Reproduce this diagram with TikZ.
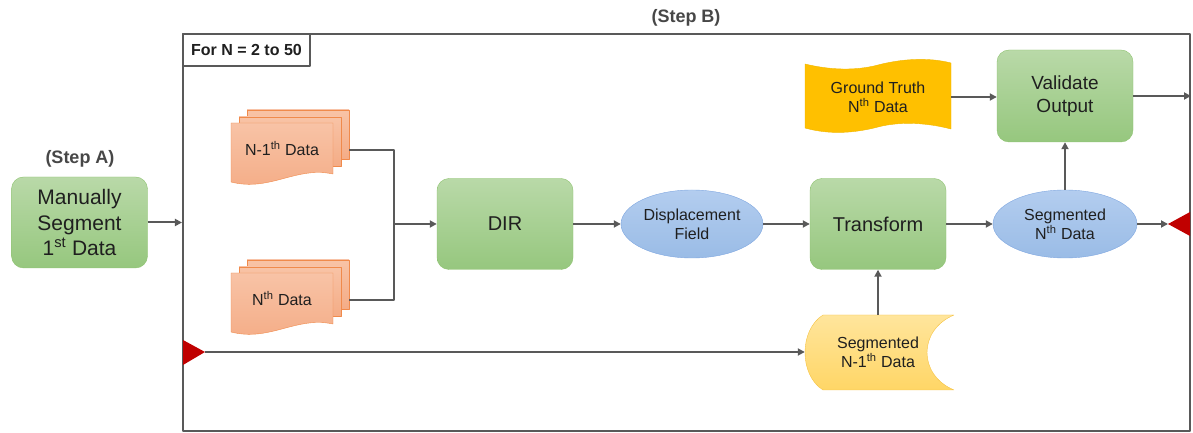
\documentclass[tikz,border=0pt]{standalone}
\usepackage{fontspec}
\setmainfont{Liberation Sans}
\usetikzlibrary{arrows.meta,shapes.geometric}

\definecolor{lnGray}{HTML}{595959}
\definecolor{txtCol}{HTML}{1F1F1F}
\definecolor{grnTop}{HTML}{B9D9A8}
\definecolor{grnBot}{HTML}{96C77E}
\definecolor{grnEdge}{HTML}{8DC26F}
\definecolor{bluTop}{HTML}{B3CDEF}
\definecolor{bluBot}{HTML}{9ABCE6}
\definecolor{bluEdge}{HTML}{7EA6E0}
\definecolor{docTop}{HTML}{F8C3A6}
\definecolor{docBot}{HTML}{F4AC86}
\definecolor{docEdge}{HTML}{F08A4B}
\definecolor{gtFill}{HTML}{FFC000}
\definecolor{gtEdge}{HTML}{F2B800}
\definecolor{sdTop}{HTML}{FFE59C}
\definecolor{sdBot}{HTML}{FFD666}
\definecolor{sdEdge}{HTML}{F6C343}
\definecolor{tRed}{HTML}{C00000}

\newcommand{\fsz}[1]{\fontsize{#1bp}{1.2\dimexpr#1bp\relax}\selectfont}
\newcommand{\ordsup}[1]{\smash{\textsuperscript{#1}}}

\tikzset{
  ln/.style={draw=lnGray,line width=2bp},
  arr/.style={ln,-{Triangle[length=7bp,width=7bp]}},
  procbox/.style={rounded corners=12bp,draw=grnEdge,top color=grnTop,bottom color=grnBot,
    minimum width=136bp,minimum height=91bp,align=center,text=txtCol,font=\fsz{20}},
  ellbox/.style={ellipse,draw=bluEdge,top color=bluTop,bottom color=bluBot,inner sep=0pt,
    minimum width=142bp,minimum height=68bp,align=center,text=txtCol,font=\fsz{16}},
  plain/.style={draw=none,align=center,inner sep=0pt,text=txtCol},
}

\begin{document}
\begin{tikzpicture}[x=1bp,y=-1bp,line join=bevel]
\useasboundingbox (0,0) rectangle (1193,433);
%%
\node (stepA) at (80,159) [plain,font=\bfseries\fsz{18},text=lnGray!80!black] {(Step A)};
\node (stepB) at (686,18) [plain,font=\bfseries\fsz{18},text=lnGray!80!black] {(Step B)};
\node (loop) at (686.5,232.5) [ln,minimum width=1007bp,minimum height=397bp,inner sep=0pt] {};
\node (forN) at (246.5,50) [ln,fill=white,minimum width=127bp,minimum height=32bp,inner sep=0pt,
  font=\bfseries\fsz{16},text=txtCol] {For N = 2 to 50};
%
\node (man) at (79.5,222.5) [procbox,font=\fsz{21}] {Manually\\Segment\\1\ordsup{st} Data};
%
\foreach \dy/\nm/\lab in {0/nm1/{N-1\ordsup{th} Data},150/nn/{N\ordsup{th} Data}}{
  \draw [draw=docEdge,top color=docTop,bottom color=docBot] (247,{110+\dy}) rectangle (349,{159+\dy});
  \draw [draw=docEdge,top color=docTop,bottom color=docBot] (239,{117+\dy}) rectangle (341,{166+\dy});
  \draw [draw=docEdge,top color=docTop,bottom color=docBot] (231,{123+\dy}) -- (333,{123+\dy})
    -- (333,{174+\dy}) .. controls (296,{166+\dy}) and (270,{192+\dy}) .. (231,{182+\dy}) -- cycle;
  \node (\nm) at (282,{150+\dy}) [plain,minimum width=134bp,font=\fsz{16}] {\lab};
}
\coordinate (jn) at (394,224);
%
\node (dir) at (505,224) [procbox] {DIR};
\node (disp) at (692,224) [ellbox] {Displacement\\Field};
\node (tr) at (878,224) [procbox] {Transform};
\node (segN) at (1065,224) [ellbox,minimum width=144bp] {Segmented\\N\ordsup{th} Data};
\node (val) at (1065,96) [procbox,minimum height=92bp,font=\fsz{19}] {Validate\\Output};
%
\draw [draw=gtEdge,fill=gtFill] (805,64) .. controls (830,70) and (855,71) .. (878,65)
  .. controls (901,59) and (928,57) .. (951,63) -- (951,129)
  .. controls (928,123) and (901,121) .. (878,127)
  .. controls (855,133) and (830,135) .. (805,128) -- cycle;
\node (gt) at (878,97) [plain,minimum width=146bp,font=\fsz{16}] {Ground Truth\\N\ordsup{th} Data};
%
\draw [draw=sdEdge,top color=sdTop,bottom color=sdBot] (823,315) -- (954,315)
  .. controls (918,330) and (918,375) .. (954,390) -- (823,390)
  .. controls (799,375) and (799,330) .. (823,315) -- cycle;
\node (sn1) at (878,352.5) [plain,minimum width=146bp,minimum height=75bp,font=\fsz{16}] {Segmented\\N-1\ordsup{th} Data};
%
\coordinate (ltip) at (205,352);
\coordinate (rtip) at (1168,224);
\fill [tRed] (183,340) -- (ltip) -- (183,365) -- cycle;
\fill [tRed] (1190,212) -- (rtip) -- (1190,236) -- cycle;
%
\draw [arr] (man) -- (man -| loop.west);
\draw [ln] (nm1.east) -| (jn);
\draw [ln] (nn.east) -| (jn);
\draw [arr] (jn) -- (dir);
\draw [arr] (dir) -- (disp);
\draw [arr] (disp) -- (tr);
\draw [arr] (tr) -- (segN);
\draw [arr] (segN) -- (rtip);
\draw [arr] (segN) -- (val);
\draw [arr] (gt.east) -- (gt.east -| val.west);
\draw [arr] (val) -- (val -| loop.east);
\draw [arr] (ltip) -- (ltip -| sn1.west);
\draw [arr] (sn1.north -| tr) -- (tr);
%
\end{tikzpicture}
\end{document}
